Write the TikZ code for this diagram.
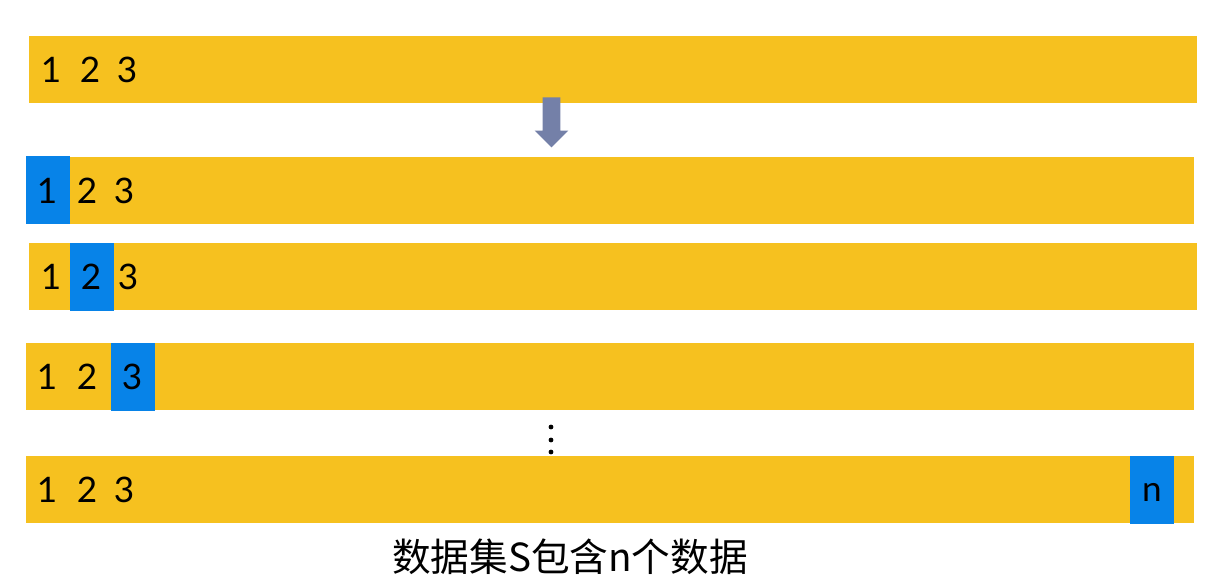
\documentclass[tikz,border=0pt]{standalone}
\usepackage{fontspec}
\setsansfont{Lato}
\newfontfamily\cjk{Noto Sans CJK SC}
\usetikzlibrary{positioning, shapes.arrows}
\definecolor{baryellow}{HTML}{F6C11F}
\definecolor{cellblue}{HTML}{0783E8}
\definecolor{arrowslate}{HTML}{7480A8}

\begin{document}
\begin{tikzpicture}[x=0.02cm, y=-0.02cm,
  bar/.style={fill=baryellow, anchor=north west, inner sep=0pt,
    minimum width=23.36cm, minimum height=1.34cm},
  cell/.style={fill=cellblue, anchor=north west, inner sep=0pt,
    minimum width=0.88cm, minimum height=1.36cm},
  digit/.style={font=\sffamily\fontsize{20}{20}\selectfont, inner sep=0pt}]
  \useasboundingbox (0,0) rectangle (1228,580);
  % Yellow rows
  \foreach \name/\x/\y in {rowa/29/36, rowb/26/157, rowc/29/243, rowd/26/343, rowe/26/456}{
    \node[bar] (\name) at (\x,\y) {};
  }
  % Blue highlighted cells
  \foreach \name/\x/\y in {cellb/26/156, cellc/70/243, celld/111/343, celle/1130/456}{
    \node[cell] (\name) at (\x,\y) {};
  }
  % Digits in each row
  \foreach \row/\y/\xa/\xb/\xc in {
    rowa/70/51/90/127,
    rowb/191/47/87/124,
    rowc/277/51/91/128,
    rowd/377/47/87/132,
    rowe/490/47/87/124
  }{
    \node[digit] (\row-1) at (\xa,\y) {1};
    \node[digit] (\row-2) at (\xb,\y) {2};
    \node[digit] (\row-3) at (\xc,\y) {3};
  }
  \node[digit] (rowe-n) at (1152,492) {n};
  % Arrow down
  \node[single arrow, rotate=270, fill=arrowslate, inner sep=0pt,
    minimum height=1cm, single arrow head extend=0.16cm,
    single arrow head indent=0pt] (down) at (551.5,118) {\rule{0pt}{0.34cm}};
  % Dots
  \foreach \y in {427,440,452}
    \fill (551,\y) circle (2.4);
  % Caption
  \node[font=\cjk\fontsize{22}{22}\selectfont, inner sep=0pt] (caption) at (570,557) {数据集S包含n个数据};
\end{tikzpicture}
\end{document}
